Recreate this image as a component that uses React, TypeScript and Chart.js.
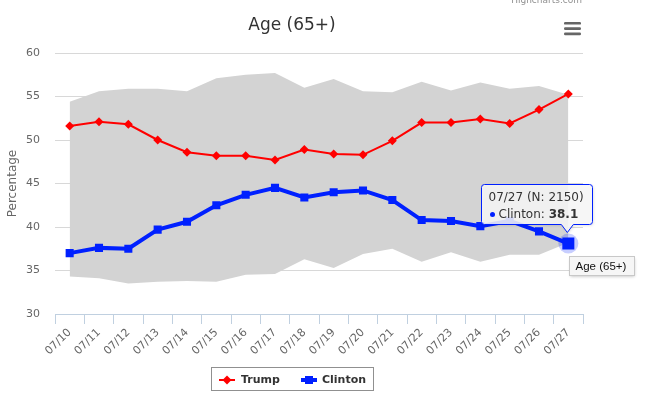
import React, { useEffect, useRef } from 'react';
import { Chart, registerables } from 'chart.js';

Chart.register(...registerables);

const categories = ['07/10', '07/11', '07/12', '07/13', '07/14', '07/15', '07/16', '07/17', '07/18', '07/19', '07/20', '07/21', '07/22', '07/23', '07/24', '07/25', '07/26', '07/27'];
const trump = [51.6, 52.1, 51.8, 50.0, 48.6, 48.2, 48.2, 47.7, 48.9, 48.4, 48.3, 49.9, 52.0, 52.0, 52.4, 51.9, 53.5, 55.3];
const clinton = [37.0, 37.6, 37.5, 39.7, 40.6, 42.5, 43.7, 44.5, 43.4, 44.0, 44.2, 43.1, 40.8, 40.7, 40.1, 40.7, 39.5, 38.1];
const bandHigh = [54.4, 55.6, 55.9, 55.9, 55.6, 57.1, 57.5, 57.7, 56.0, 57.0, 55.6, 55.5, 56.7, 55.7, 56.6, 55.9, 56.2, 55.2];
const bandLow = [34.3, 34.1, 33.5, 33.7, 33.8, 33.7, 34.5, 34.6, 36.3, 35.3, 36.9, 37.5, 36.0, 37.1, 36.0, 36.8, 36.8, 38.2];
const yMin = 30;
const yMax = 60;
const yStep = 5;
const titleText = 'Age (65+)';
const yTitle = 'Percentage';
const seriesNames = ['Trump', 'Clinton'];
const seriesColors = ['#ff0000', '#0020ff'];
const hoverIndex = 17;
const tooltipHeader = '07/27 (N: 2150)';
const hoverTitle = 'Age (65+)';
const creditText = 'Highcharts.com';

const FONT = "'DejaVu Sans', sans-serif";

function roundRectPath(ctx: CanvasRenderingContext2D, x: number, y: number, w: number, h: number, r: number) {
  ctx.beginPath();
  ctx.moveTo(x + r, y);
  ctx.lineTo(x + w - r, y);
  ctx.arcTo(x + w, y, x + w, y + r, r);
  ctx.lineTo(x + w, y + h - r);
  ctx.arcTo(x + w, y + h, x + w - r, y + h, r);
  ctx.lineTo(x + r, y + h);
  ctx.arcTo(x, y + h, x, y + h - r, r);
  ctx.lineTo(x, y + r);
  ctx.arcTo(x, y, x + r, y, r);
  ctx.closePath();
}

const overlayPlugin = {
  id: 'overlay',
  afterDatasetDraw(chart: any, args: any) {
    if (args.index !== 0) return;
    const pt = chart.getDatasetMeta(1).data[hoverIndex];
    if (!pt) return;
    const ctx: CanvasRenderingContext2D = chart.ctx;
    ctx.save();
    ctx.beginPath();
    ctx.arc(pt.x, pt.y, 10, 0, Math.PI * 2);
    ctx.fillStyle = 'rgba(0, 32, 255, 0.22)';
    ctx.fill();
    ctx.restore();
  },
  afterDraw(chart: any) {
    const ctx: CanvasRenderingContext2D = chart.ctx;
    ctx.save();
    // title
    ctx.fillStyle = '#333333';
    ctx.font = `17px ${FONT}`;
    ctx.textAlign = 'center';
    ctx.textBaseline = 'middle';
    ctx.fillText(titleText, 292, 25.5);

    // hamburger menu
    ctx.fillStyle = '#666666';
    for (let i = 0; i < 3; i++) {
      roundRectPath(ctx, 564, 22 + i * 5.3, 17, 2.6, 1.2);
      ctx.fill();
    }

    // credits
    ctx.fillStyle = '#909090';
    ctx.font = `9px ${FONT}`;
    ctx.textAlign = 'right';
    ctx.textBaseline = 'alphabetic';
    ctx.fillText(creditText, 582, 3);
    ctx.fillText(creditText, 582, 405);

    // legend
    ctx.strokeStyle = '#909090';
    ctx.lineWidth = 1;
    ctx.strokeRect(211.5, 367.5, 162, 23);
    const ly = 380;
    // Trump
    ctx.strokeStyle = seriesColors[0];
    ctx.lineWidth = 2;
    ctx.beginPath();
    ctx.moveTo(219, ly);
    ctx.lineTo(235, ly);
    ctx.stroke();
    ctx.fillStyle = seriesColors[0];
    ctx.beginPath();
    ctx.moveTo(227 - 4.5, ly);
    ctx.lineTo(227, ly - 4.5);
    ctx.lineTo(227 + 4.5, ly);
    ctx.lineTo(227, ly + 4.5);
    ctx.closePath();
    ctx.fill();
    // Clinton
    ctx.strokeStyle = seriesColors[1];
    ctx.lineWidth = 4;
    ctx.beginPath();
    ctx.moveTo(301, ly);
    ctx.lineTo(317, ly);
    ctx.stroke();
    ctx.fillStyle = seriesColors[1];
    ctx.fillRect(309 - 4, ly - 4, 8, 8);
    ctx.fillStyle = '#333333';
    ctx.font = `bold 11px ${FONT}`;
    ctx.textAlign = 'left';
    ctx.textBaseline = 'middle';
    ctx.fillText(seriesNames[0], 241, ly);
    ctx.fillText(seriesNames[1], 322, ly);

    // tooltip
    const pt = chart.getDatasetMeta(1).data[hoverIndex];
    if (pt) {
      const px = pt.x;
      const py = pt.y;
      const left = Math.round(px - 87) + 0.5;
      const right = Math.round(px + 24) + 0.5;
      const top = Math.round(py - 60) + 0.5;
      const bottom = Math.round(py - 20) + 0.5;
      const r = 3;
      const tipX = px - 1;
      const tipY = py - 11;
      const buildPath = () => {
        ctx.beginPath();
        ctx.moveTo(left + r, top);
        ctx.lineTo(right - r, top);
        ctx.arcTo(right, top, right, top + r, r);
        ctx.lineTo(right, bottom - r);
        ctx.arcTo(right, bottom, right - r, bottom, r);
        ctx.lineTo(tipX + 6, bottom);
        ctx.lineTo(tipX, tipY);
        ctx.lineTo(tipX - 6, bottom);
        ctx.lineTo(left + r, bottom);
        ctx.arcTo(left, bottom, left, bottom - r, r);
        ctx.lineTo(left, top + r);
        ctx.arcTo(left, top, left + r, top, r);
        ctx.closePath();
      };
      ctx.save();
      ctx.shadowColor = 'rgba(0,0,0,0.15)';
      ctx.shadowBlur = 3;
      ctx.shadowOffsetX = 1;
      ctx.shadowOffsetY = 1;
      buildPath();
      ctx.fillStyle = 'rgba(249, 249, 249, 0.85)';
      ctx.fill();
      ctx.restore();
      buildPath();
      ctx.strokeStyle = seriesColors[1];
      ctx.lineWidth = 1;
      ctx.stroke();

      ctx.fillStyle = '#333333';
      ctx.font = `12px ${FONT}`;
      ctx.textAlign = 'left';
      ctx.textBaseline = 'middle';
      ctx.fillText(tooltipHeader, left + 7, top + 13);
      const l2y = top + 30;
      ctx.fillStyle = seriesColors[1];
      ctx.beginPath();
      ctx.arc(left + 11, l2y, 2.5, 0, Math.PI * 2);
      ctx.fill();
      ctx.fillStyle = '#333333';
      const lbl = seriesNames[1] + ': ';
      ctx.fillText(lbl, left + 17, l2y);
      const w = ctx.measureText(lbl).width;
      ctx.font = `bold 12px ${FONT}`;
      ctx.fillText(clinton[hoverIndex].toFixed(1), left + 17 + w, l2y);

      // native title tooltip
      const bx = Math.round(px + 1) + 0.5;
      const by = Math.round(py + 12) + 0.5;
      ctx.save();
      ctx.shadowColor = 'rgba(0,0,0,0.25)';
      ctx.shadowBlur = 3;
      ctx.shadowOffsetY = 1;
      ctx.fillStyle = '#f6f6f6';
      ctx.fillRect(bx, by, 65, 19);
      ctx.restore();
      ctx.strokeStyle = '#c8c8c8';
      ctx.strokeRect(bx, by, 65, 19);
      ctx.fillStyle = '#111111';
      ctx.font = `11.5px 'Liberation Sans', Arial, sans-serif`;
      ctx.textAlign = 'left';
      ctx.textBaseline = 'middle';
      ctx.fillText(hoverTitle, bx + 6, by + 10);
    }
    ctx.restore();
  },
};

export default function App() {
  const canvasRef = useRef<HTMLCanvasElement | null>(null);

  useEffect(() => {
    if (!canvasRef.current) return;
    Chart.defaults.font.family = FONT;
    const chart = new Chart(canvasRef.current, {
      type: 'line',
      data: {
        labels: categories,
        datasets: [
          {
            label: seriesNames[0],
            data: trump,
            borderColor: seriesColors[0],
            backgroundColor: seriesColors[0],
            borderWidth: 2,
            pointStyle: 'rectRot',
            pointRadius: 4.5,
            pointBorderWidth: 0,
            pointBackgroundColor: seriesColors[0],
            tension: 0,
            fill: false,
            order: 1,
          },
          {
            label: seriesNames[1],
            data: clinton,
            borderColor: seriesColors[1],
            backgroundColor: seriesColors[1],
            borderWidth: 4,
            pointStyle: 'rect',
            pointRadius: clinton.map((_, i) => (i === hoverIndex ? 8.5 : 5.7)),
            pointBorderWidth: 0,
            pointBackgroundColor: seriesColors[1],
            tension: 0,
            fill: false,
            order: 0,
          },
          {
            label: 'high',
            data: bandHigh,
            borderWidth: 0,
            borderColor: 'rgba(0,0,0,0)',
            pointRadius: 0,
            backgroundColor: '#d3d3d3',
            fill: '+1',
            tension: 0,
            order: 2,
          },
          {
            label: 'low',
            data: bandLow,
            borderWidth: 0,
            borderColor: 'rgba(0,0,0,0)',
            pointRadius: 0,
            backgroundColor: '#d3d3d3',
            fill: false,
            tension: 0,
            order: 3,
          },
        ],
      },
      options: {
        responsive: false,
        animation: false,
        events: [],
        layout: { padding: { top: 53, right: 68, bottom: 0, left: 0 } },
        plugins: {
          legend: { display: false },
          title: { display: false },
          tooltip: { enabled: false },
        },
        scales: {
          x: {
            type: 'category',
            offset: true,
            grid: {
              offset: true,
              drawOnChartArea: false,
              drawTicks: true,
              tickLength: 10,
              color: '#c0d0e0',
            },
            border: { color: '#c0d0e0', width: 1 },
            ticks: {
              autoSkip: false,
              maxRotation: 45,
              minRotation: 45,
              color: '#666666',
              font: { size: 11, family: FONT },
              padding: 2,
            },
            afterFit: (s: any) => {
              s.height = 84;
            },
          },
          y: {
            min: yMin,
            max: yMax,
            ticks: {
              stepSize: yStep,
              color: '#666666',
              font: { size: 11, family: FONT },
              padding: 15,
            },
            grid: { color: '#d8d8d8', drawTicks: false },
            border: { display: false },
            title: {
              display: true,
              text: yTitle,
              color: '#666666',
              font: { size: 12, family: FONT },
              padding: { top: 6, bottom: 0 },
            },
            afterFit: (s: any) => {
              s.width = 55;
            },
          },
        },
      },
      plugins: [overlayPlugin],
    } as any);
    return () => chart.destroy();
  }, []);

  return (
    <div style={{ position: 'absolute', left: 0, top: 0, width: 651, height: 398, background: '#ffffff' }}>
      <canvas ref={canvasRef} width={651} height={398} style={{ display: 'block' }} />
    </div>
  );
}
